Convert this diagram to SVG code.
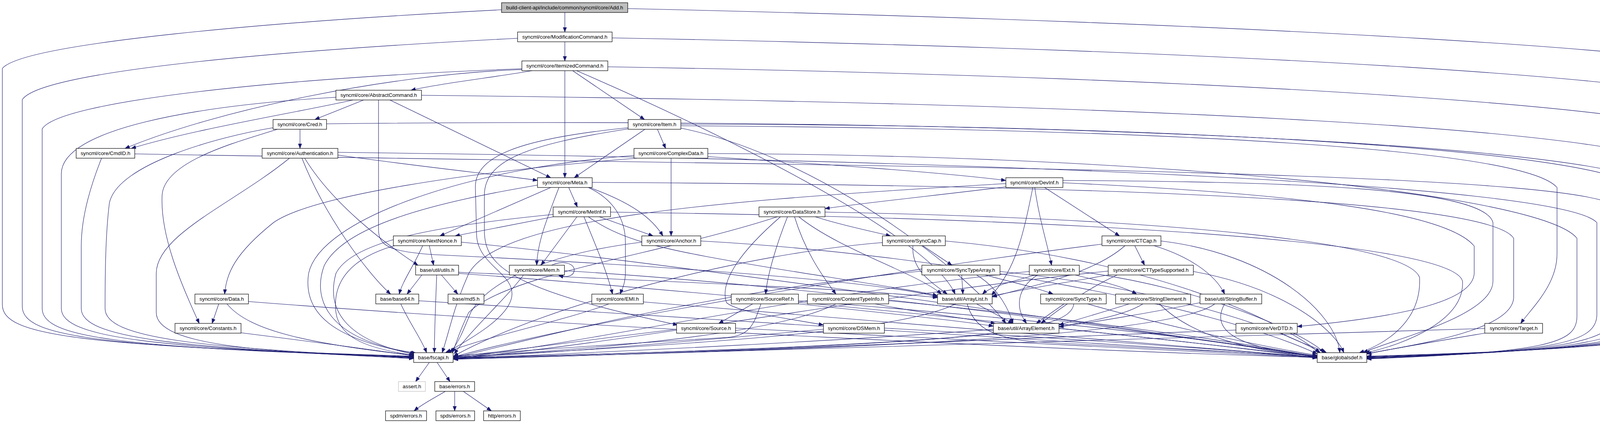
<svg xmlns="http://www.w3.org/2000/svg" width="4447" height="1083" viewBox="0 0 4447 1083">
<style>
.n rect{fill:#fff;stroke:#000;stroke-width:1.2}
.n text{font-family:"Liberation Sans",Arial,Helvetica,sans-serif;font-size:13.3px;text-anchor:middle;fill:#000}
#edges path{fill:none;stroke:#191970;stroke-width:1.1;marker-end:url(#a)}
</style>
<defs>
<marker id="a" markerUnits="userSpaceOnUse" markerWidth="13" markerHeight="10" refX="12" refY="4.5" orient="auto"><path d="M0,0 L12,4.5 L0,9 z" fill="#191970" stroke="#191970" stroke-width="0.8"/></marker>
</defs>
<rect width="4447" height="1083" fill="#fff"/>
<g id="edges">
<path d="M1446,32 L1446,82"/>
<path d="M1446,107 L1446,156"/>
<path d="M1284,25 C700,55 60,110 6,175 L6,780 C6,860 200,885 1059,912"/>
<path d="M1607,22 C3300,60 4380,135 4441,180 L4441,780 C4441,870 4100,895 3499,912"/>
<path d="M1325,98 C600,135 100,190 57,255 L57,785 C57,862 250,888 1059,913"/>
<path d="M1567,97 C3300,130 4330,210 4392,260 L4392,785 C4392,872 4080,896 3499,913"/>
<path d="M1336,176 C700,200 150,260 108,330 L108,790 C108,864 300,890 1059,914"/>
<path d="M1556,171 C3300,200 4280,285 4341,340 L4341,790 C4341,872 4060,897 3499,914"/>
<path d="M1362,181 C1250,200 1120,215 1052,231"/>
<path d="M1336,178 C1000,190 560,280 320,380"/>
<path d="M1446,181 L1446,455"/>
<path d="M1466,181 L1650,306"/>
<path d="M1476,181 C1800,320 2380,600 2445,753"/>
<path d="M860,249 C500,270 157,330 157,445 L157,790 C157,866 400,890 1059,915"/>
<path d="M1079,244 C3000,265 4200,335 4290,430 L4290,795 C4290,874 4040,898 3499,915"/>
<path d="M904,256 C750,290 500,330 336,380"/>
<path d="M931,256 L806,306"/>
<path d="M998,256 L1410,455"/>
<path d="M969,256 L969,590 C970,630 1000,645 1112,652 C1700,680 2250,720 2400,760"/>
<path d="M768,331 L768,380"/>
<path d="M699,327 C560,350 300,420 280,520 C270,600 269,700 269,790 C269,866 500,890 1059,916"/>
<path d="M710,331 C620,360 420,410 415,500 C410,600 460,720 510,828"/>
<path d="M836,317 C2500,298 4150,365 4240,480 L4240,800 C4240,876 4020,899 3499,916"/>
<path d="M1683,331 L1704,380"/>
<path d="M1651,331 L1470,455"/>
<path d="M1608,327 C1330,355 1215,400 1217,480 L1220,600 C1222,680 1320,700 1310,760 C1300,820 1180,880 1143,903"/>
<path d="M1608,330 C1350,370 1240,410 1240,500 L1240,590 C1240,680 1300,740 1735,832"/>
<path d="M1743,322 C3000,330 3900,380 3986,480 L3986,650 C3986,730 3920,790 3893,828"/>
<path d="M1743,328 C2100,400 2480,700 2575,828"/>
<path d="M1743,318 C3000,318 4100,385 4189,480 L4189,800 C4189,877 4000,900 3499,917"/>
<path d="M260,405 C230,480 208,560 208,630 L208,790 C208,866 450,890 1059,917"/>
<path d="M345,394 C2000,425 4050,430 4138,530 L4138,800 C4138,878 3990,900 3499,918"/>
<path d="M865,397 C1100,430 1300,450 1376,462"/>
<path d="M865,390 C2500,410 4000,470 4088,570 L4088,805 C4088,879 3980,900 3499,918"/>
<path d="M741,405 C600,520 400,600 400,700 L400,800 C400,890 700,900 1059,918"/>
<path d="M780,405 C850,520 980,620 1070,679"/>
<path d="M773,405 C830,550 940,700 1000,753"/>
<path d="M1718,405 L1718,604"/>
<path d="M1812,401 C2100,420 2400,440 2575,462"/>
<path d="M1630,405 C1200,440 800,500 700,570 C600,650 580,700 575,753"/>
<path d="M1623,398 C1200,430 820,560 790,700 C775,800 850,870 1062,905"/>
<path d="M1812,393 C3000,398 3950,500 4037,610 L4037,810 C4037,880 3960,901 3499,919"/>
<path d="M1376,474 C1100,520 880,580 830,680 C800,760 830,870 1065,904"/>
<path d="M1516,467 C3000,475 3820,520 3875,610 L3875,760 C3875,850 3600,885 3499,906"/>
<path d="M1410,480 L1126,604"/>
<path d="M1431,480 C1400,560 1376,620 1374,679"/>
<path d="M1456,480 L1478,530"/>
<path d="M1506,480 C1570,510 1601,560 1601,620 L1601,700 C1600,730 1592,740 1588,753"/>
<path d="M1509,480 C1620,520 1670,560 1697,604"/>
<path d="M2578,478 C2400,500 2250,515 2112,534"/>
<path d="M2575,470 C1800,515 1280,560 1200,700 C1160,790 1150,850 1132,903"/>
<path d="M2674,480 L2866,604"/>
<path d="M2649,480 C2660,560 2680,620 2692,679"/>
<path d="M2644,480 C2620,600 2600,690 2538,756"/>
<path d="M2721,468 C3300,495 3700,540 3774,630 L3774,700 C3770,770 3600,810 3321,836"/>
<path d="M2721,462 C3300,465 3800,480 3822,570 L3822,720 C3822,810 3560,870 3490,903"/>
<path d="M1417,555 L1165,604"/>
<path d="M1477,555 L1385,679"/>
<path d="M1495,555 C1530,640 1555,700 1568,753"/>
<path d="M1534,555 L1672,604"/>
<path d="M1506,555 C1600,620 1700,640 2000,690 C2250,730 2350,745 2400,757"/>
<path d="M1416,549 C1100,580 900,620 860,700 C835,790 880,870 1062,908"/>
<path d="M1563,543 C2800,560 3720,620 3744,720 C3750,820 3600,880 3495,904"/>
<path d="M2087,555 C2150,575 2220,590 2280,604"/>
<path d="M2016,555 C1990,620 1965,700 1960,753"/>
<path d="M2034,555 C2060,640 2100,700 2140,753"/>
<path d="M1998,555 C1900,640 1840,720 1860,775 C1890,800 2000,812 2108,832"/>
<path d="M2045,555 C2150,640 2350,700 2410,753"/>
<path d="M1990,555 C1700,650 1300,700 1200,800 C1175,850 1168,880 1158,903"/>
<path d="M2112,543 C3000,560 3600,620 3634,710 C3640,820 3550,880 3480,903"/>
<path d="M1082,629 C1060,680 1030,720 1022,753"/>
<path d="M1099,629 L1110,679"/>
<path d="M1010,629 C900,660 850,720 860,800 C870,870 950,893 1060,910"/>
<path d="M1181,620 C1600,660 2600,800 3372,912"/>
<path d="M1643,620 C1400,650 1250,720 1205,800 C1185,850 1172,880 1152,903"/>
<path d="M1794,617 C2400,650 3100,780 3372,906"/>
<path d="M2362,629 L2437,679"/>
<path d="M2337,629 C2333,690 2380,720 2425,753"/>
<path d="M2259,621 C1900,650 1400,780 1161,912"/>
<path d="M2420,617 C2900,660 3250,800 3378,903"/>
<path d="M2905,629 L2930,679"/>
<path d="M2954,629 C3040,655 3110,700 3135,753"/>
<path d="M2880,629 C2800,700 2650,730 2540,760"/>
<path d="M2821,625 C2300,690 1500,820 1161,914"/>
<path d="M2972,617 C3250,650 3420,800 3430,903"/>
<path d="M1080,704 L1042,753"/>
<path d="M1130,704 L1172,753"/>
<path d="M1118,704 C1115,780 1112,850 1112,903"/>
<path d="M1174,697 C1700,720 2200,740 2400,762"/>
<path d="M1174,700 C2000,760 3000,870 3372,914"/>
<path d="M1412,679 C1440,666 1470,674 1470,691 C1470,706 1452,712 1430,705"/>
<path d="M1340,704 C1300,760 1200,850 1163,906"/>
<path d="M1445,693 C2200,740 3000,860 3372,913"/>
<path d="M2522,704 C2580,720 2650,735 2696,753"/>
<path d="M2462,704 L2465,753"/>
<path d="M2500,704 C2560,740 2585,800 2593,828"/>
<path d="M2360,694 C1800,750 1400,860 1161,916"/>
<path d="M2560,695 C3000,740 3300,850 3380,903"/>
<path d="M2752,704 C2820,720 2880,735 2910,753"/>
<path d="M2649,704 C2600,720 2540,730 2515,753"/>
<path d="M2656,704 C2600,740 2600,790 2628,828"/>
<path d="M2635,695 C2000,760 1500,880 1161,917"/>
<path d="M2763,695 C3100,740 3350,860 3390,903"/>
<path d="M2848,702 C2750,720 2620,740 2540,758"/>
<path d="M2860,704 C2780,740 2700,800 2665,828"/>
<path d="M2837,694 C2200,760 1600,880 1161,918"/>
<path d="M3055,695 C3300,740 3420,850 3440,903"/>
<path d="M560,778 L543,828"/>
<path d="M581,778 C640,850 800,880 1059,910"/>
<path d="M636,772 C1500,840 2800,900 3372,915"/>
<path d="M617,852 C800,875 950,895 1059,911"/>
<path d="M1026,778 C1050,830 1080,870 1092,903"/>
<path d="M1072,770 C2000,830 3000,890 3372,915"/>
<path d="M1559,778 C1450,820 1250,860 1140,903"/>
<path d="M1647,773 C2400,830 3100,890 3372,915"/>
<path d="M1927,778 L1840,828"/>
<path d="M1948,778 C1930,830 1920,860 1860,864 C1600,880 1300,900 1161,912"/>
<path d="M2044,778 C2250,800 2450,820 2543,835"/>
<path d="M2044,770 C2700,820 3200,880 3372,915"/>
<path d="M2140,778 C2000,850 1600,890 1161,914"/>
<path d="M2240,778 C2350,800 2470,815 2548,828"/>
<path d="M2275,770 C2800,820 3200,880 3372,914"/>
<path d="M2500,778 L2593,828"/>
<path d="M2447,778 C2300,850 1800,880 1161,914"/>
<path d="M2476,778 C2490,830 2530,865 2650,875 C3000,895 3250,905 3372,914"/>
<path d="M2724,778 L2653,828"/>
<path d="M2749,778 C2740,850 2500,885 1161,916"/>
<path d="M2784,778 C3000,840 3250,890 3372,910"/>
<path d="M2891,778 C2820,800 2760,818 2711,832"/>
<path d="M2926,778 C2800,860 2200,890 1161,917"/>
<path d="M2968,778 C3050,860 3200,900 3372,911"/>
<path d="M3072,775 C2950,800 2800,825 2711,837"/>
<path d="M3110,778 C3000,860 2200,895 1161,918"/>
<path d="M3135,778 C3100,840 3150,890 3372,912"/>
<path d="M1732,843 C1500,870 1300,900 1161,913"/>
<path d="M1883,840 C2500,870 3100,900 3372,916"/>
<path d="M2108,843 C1700,880 1400,905 1161,916"/>
<path d="M2264,840 C2800,870 3200,900 3372,916"/>
<path d="M2543,843 C2200,870 1600,900 1161,918"/>
<path d="M2711,841 C3000,870 3250,900 3372,917"/>
<path d="M3164,845 C2500,870 1800,905 1161,919"/>
<path d="M3280,853 C3320,875 3370,890 3396,903"/>
<path d="M3801,841 C3000,860 2000,900 1161,920"/>
<path d="M3801,853 C3700,870 3580,890 3499,906"/>
<path d="M1099,928 L1064,977"/>
<path d="M1119,928 L1152,977"/>
<path d="M1140,1002 C1110,1020 1080,1035 1060,1052"/>
<path d="M1164,1002 L1164,1052"/>
<path d="M1186,1002 L1258,1052"/>
</g>
<g id="n0" class="n"><rect x="1284" y="7" width="323" height="25" style="fill:#bfbfbf"/><text x="1445.5" y="24">build-client-api/include/common/syncml/core/Add.h</text></g>
<g id="n1" class="n"><rect x="1325" y="82" width="242" height="25"/><text x="1446" y="99">syncml/core/ModificationCommand.h</text></g>
<g id="n2" class="n"><rect x="1336" y="156" width="220" height="25"/><text x="1446" y="173">syncml/core/ItemizedCommand.h</text></g>
<g id="n3" class="n"><rect x="860" y="231" width="219" height="25"/><text x="969.5" y="248">syncml/core/AbstractCommand.h</text></g>
<g id="n4" class="n"><rect x="699" y="306" width="137" height="25"/><text x="767.5" y="323">syncml/core/Cred.h</text></g>
<g id="n5" class="n"><rect x="1608" y="306" width="135" height="25"/><text x="1675.5" y="323">syncml/core/Item.h</text></g>
<g id="n6" class="n"><rect x="195" y="380" width="150" height="25"/><text x="270" y="397">syncml/core/CmdID.h</text></g>
<g id="n7" class="n"><rect x="671" y="380" width="194" height="25"/><text x="768" y="397">syncml/core/Authentication.h</text></g>
<g id="n8" class="n"><rect x="1623" y="380" width="189" height="25"/><text x="1717.5" y="397">syncml/core/ComplexData.h</text></g>
<g id="n9" class="n"><rect x="1376" y="455" width="140" height="25"/><text x="1446" y="472">syncml/core/Meta.h</text></g>
<g id="n10" class="n"><rect x="2575" y="455" width="146" height="25"/><text x="2648" y="472">syncml/core/DevInf.h</text></g>
<g id="n11" class="n"><rect x="1416" y="530" width="147" height="25"/><text x="1489.5" y="547">syncml/core/MetInf.h</text></g>
<g id="n12" class="n"><rect x="1943" y="530" width="169" height="25"/><text x="2027.5" y="547">syncml/core/DataStore.h</text></g>
<g id="n13" class="n"><rect x="1007" y="604" width="174" height="25"/><text x="1094" y="621">syncml/core/NextNonce.h</text></g>
<g id="n14" class="n"><rect x="1643" y="604" width="151" height="25"/><text x="1718.5" y="621">syncml/core/Anchor.h</text></g>
<g id="n15" class="n"><rect x="2259" y="604" width="161" height="25"/><text x="2339.5" y="621">syncml/core/SyncCap.h</text></g>
<g id="n16" class="n"><rect x="2821" y="604" width="151" height="25"/><text x="2896.5" y="621">syncml/core/CTCap.h</text></g>
<g id="n17" class="n"><rect x="1064" y="679" width="110" height="25"/><text x="1119" y="696">base/util/utils.h</text></g>
<g id="n18" class="n"><rect x="1304" y="679" width="141" height="25"/><text x="1374.5" y="696">syncml/core/Mem.h</text></g>
<g id="n19" class="n"><rect x="2360" y="679" width="200" height="25"/><text x="2460" y="696">syncml/core/SyncTypeArray.h</text></g>
<g id="n20" class="n"><rect x="2635" y="679" width="128" height="25"/><text x="2699" y="696">syncml/core/Ext.h</text></g>
<g id="n21" class="n"><rect x="2837" y="679" width="218" height="25"/><text x="2946" y="696">syncml/core/CTTypeSupported.h</text></g>
<g id="n22" class="n"><rect x="499" y="753" width="137" height="25"/><text x="567.5" y="770">syncml/core/Data.h</text></g>
<g id="n23" class="n"><rect x="962" y="753" width="110" height="25"/><text x="1017" y="770">base/base64.h</text></g>
<g id="n24" class="n"><rect x="1147" y="753" width="92" height="25"/><text x="1193" y="770">base/md5.h</text></g>
<g id="n25" class="n"><rect x="1515" y="753" width="132" height="25"/><text x="1581" y="770">syncml/core/EMI.h</text></g>
<g id="n26" class="n"><rect x="1872" y="753" width="172" height="25"/><text x="1958" y="770">syncml/core/SourceRef.h</text></g>
<g id="n27" class="n"><rect x="2067" y="753" width="208" height="25"/><text x="2171" y="770">syncml/core/ContentTypeInfo.h</text></g>
<g id="n28" class="n"><rect x="2400" y="753" width="140" height="25"/><text x="2470" y="770">base/util/ArrayList.h</text></g>
<g id="n29" class="n"><rect x="2664" y="753" width="168" height="25"/><text x="2748" y="770">syncml/core/SyncType.h</text></g>
<g id="n30" class="n"><rect x="2856" y="753" width="192" height="25"/><text x="2952" y="770">syncml/core/StringElement.h</text></g>
<g id="n31" class="n"><rect x="3072" y="753" width="158" height="25"/><text x="3151" y="770">base/util/StringBuffer.h</text></g>
<g id="n32" class="n"><rect x="448" y="828" width="169" height="25"/><text x="532.5" y="845">syncml/core/Constants.h</text></g>
<g id="n33" class="n"><rect x="1732" y="828" width="151" height="25"/><text x="1807.5" y="845">syncml/core/Source.h</text></g>
<g id="n34" class="n"><rect x="2108" y="828" width="156" height="25"/><text x="2186" y="845">syncml/core/DSMem.h</text></g>
<g id="n35" class="n"><rect x="2543" y="828" width="168" height="25"/><text x="2627" y="845">base/util/ArrayElement.h</text></g>
<g id="n36" class="n"><rect x="3164" y="828" width="157" height="25"/><text x="3242.5" y="845">syncml/core/VerDTD.h</text></g>
<g id="n37" class="n"><rect x="3801" y="828" width="148" height="25"/><text x="3875" y="845">syncml/core/Target.h</text></g>
<g id="n38" class="n"><rect x="1059" y="903" width="101" height="25"/><text x="1109.5" y="920">base/fscapi.h</text></g>
<g id="n39" class="n"><rect x="3372" y="903" width="127" height="25"/><text x="3435.5" y="920">base/globalsdef.h</text></g>
<g id="n40" class="n"><rect x="1020" y="977" width="69" height="25" style="stroke:#bfbfbf"/><text x="1054.5" y="994">assert.h</text></g>
<g id="n41" class="n"><rect x="1113" y="977" width="102" height="25"/><text x="1164" y="994">base/errors.h</text></g>
<g id="n42" class="n"><rect x="987" y="1052" width="105" height="25"/><text x="1039.5" y="1069">spdm/errors.h</text></g>
<g id="n43" class="n"><rect x="1116" y="1052" width="99" height="25"/><text x="1165.5" y="1069">spds/errors.h</text></g>
<g id="n44" class="n"><rect x="1238" y="1052" width="94" height="25"/><text x="1285" y="1069">http/errors.h</text></g>
</svg>
